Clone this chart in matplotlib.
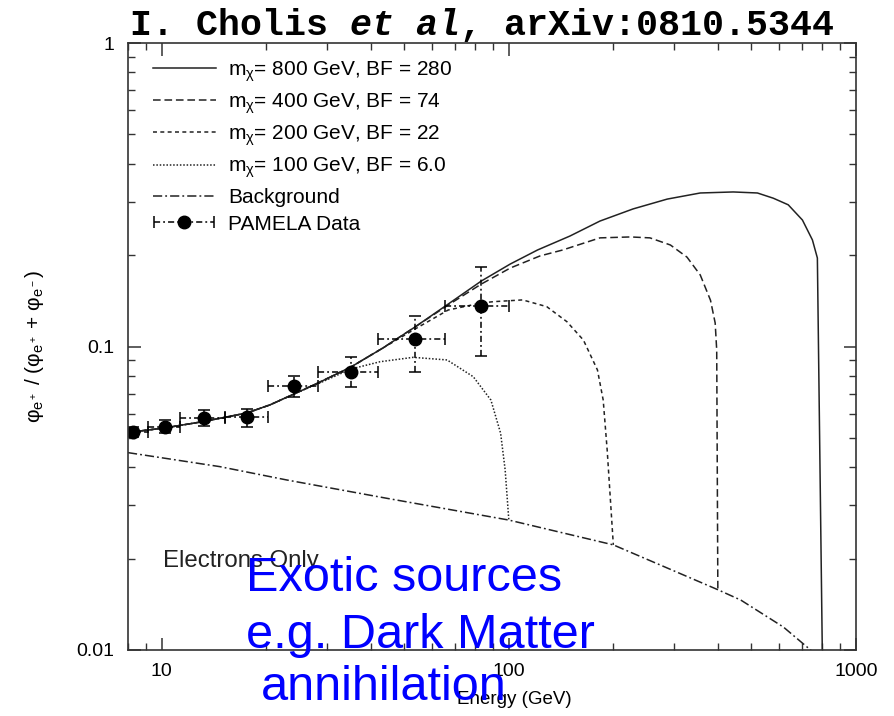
import numpy as np
import matplotlib
matplotlib.use("Agg")
import matplotlib.pyplot as plt
from matplotlib.legend_handler import HandlerErrorbar

plt.rcParams['font.family'] = ['Liberation Sans', 'DejaVu Sans']
plt.rcParams['mathtext.fontset'] = 'custom'
plt.rcParams['mathtext.rm'] = 'Liberation Sans'
plt.rcParams['mathtext.it'] = 'Liberation Sans:italic'
plt.rcParams['mathtext.bf'] = 'Liberation Sans:bold'

# --- curves (energy in GeV, positron fraction) ---
e_800 = [8.0, 10.2, 13.2, 17.6, 20.5, 24.1, 28.6, 35.1, 43.4, 53.7, 66.9, 83.3,
         101, 121, 150, 183, 228, 286, 356, 443, 520, 578, 638, 701, 749, 774, 800]
f_800 = [0.0521, 0.0539, 0.0566, 0.0604, 0.0642, 0.0698, 0.0764, 0.0856, 0.0989,
         0.116, 0.138, 0.1643, 0.187, 0.208, 0.2312, 0.259, 0.284, 0.306, 0.3205,
         0.323, 0.3205, 0.308, 0.293, 0.261, 0.2244, 0.1957, 0.0096]

e_400 = [8.0, 10.2, 13.2, 17.6, 20.5, 24.1, 28.6, 35.1, 43.4, 53.7, 66.9, 83.3,
         101, 123, 143, 183, 224, 255, 292, 326, 356, 381, 393, 397, 400]
f_400 = [0.0521, 0.0539, 0.0566, 0.0604, 0.0642, 0.0698, 0.0764, 0.0856, 0.0989,
         0.116, 0.137, 0.1606, 0.1814, 0.1988, 0.208, 0.228, 0.2296, 0.228, 0.216,
         0.197, 0.172, 0.142, 0.1195, 0.0974, 0.0158]

e_200 = [8.0, 10.2, 13.2, 17.6, 20.5, 24.1, 28.6, 35.1, 43.4, 53.7, 66.9, 83.3,
         90.2, 109.6, 128.6, 147, 164, 180, 187, 192, 200]
f_200 = [0.0521, 0.0539, 0.0566, 0.0604, 0.0642, 0.0698, 0.0764, 0.0856, 0.0989,
         0.1142, 0.1319, 0.1391, 0.1405, 0.1424, 0.1353, 0.1207, 0.105, 0.0837,
         0.0666, 0.0456, 0.0222]

e_100 = [8.0, 10.2, 13.2, 17.6, 20.5, 24.1, 28.6, 35.1, 42.6, 53.0, 66.4, 79.0,
         88.8, 94.7, 97.6, 100]
f_100 = [0.0521, 0.0539, 0.0566, 0.0604, 0.0642, 0.0698, 0.0759, 0.0843, 0.0891,
         0.0921, 0.0903, 0.0795, 0.0666, 0.0518, 0.0392, 0.0268]

e_bkg = [8.0, 14.7, 23.0, 44.6, 100, 200, 400, 466, 618, 740, 800]
f_bkg = [0.0447, 0.0402, 0.0363, 0.0316, 0.0268, 0.0222, 0.0158, 0.0146, 0.0119,
         0.0100, 0.0092]

# PAMELA points
e_pam = [8.27, 10.2, 13.2, 17.6, 24.1, 35.1, 53.7, 83.3]
e_lo = [7.4, 9.14, 11.3, 15.2, 20.3, 28.2, 42.0, 65.5]
e_hi = [9.14, 11.3, 15.2, 20.3, 28.2, 42.0, 65.5, 100.0]
f_pam = [0.0524, 0.0544, 0.0580, 0.0587, 0.0741, 0.0826, 0.1056, 0.1360]
f_errlo = [0.0020, 0.0026, 0.0033, 0.0043, 0.0058, 0.0089, 0.0230, 0.0430]
f_errhi = [0.0020, 0.0029, 0.0036, 0.0034, 0.0059, 0.0095, 0.0208, 0.0470]

labels = [r'm$_{\mathrm{\chi}}$= 800 GeV, BF = 280',
          r'm$_{\mathrm{\chi}}$= 400 GeV, BF = 74',
          r'm$_{\mathrm{\chi}}$= 200 GeV, BF = 22',
          r'm$_{\mathrm{\chi}}$= 100 GeV, BF = 6.0',
          'Background', 'PAMELA Data']

W, H = 894, 716
fig = plt.figure(figsize=(W / 100, H / 100), dpi=100)
ax = fig.add_axes([128 / W, 1 - 650 / H, 728 / W, 607 / H])

ink = '#222222'
l1, = ax.plot(e_800, f_800, color=ink, lw=1.1, ls='-')
l2, = ax.plot(e_400, f_400, color=ink, lw=1.1, ls=(0, (5, 2.5)))
l3, = ax.plot(e_200, f_200, color=ink, lw=1.1, ls=(0, (2.6, 2.2)))
l4, = ax.plot(e_100, f_100, color=ink, lw=1.1, ls=(0, (1, 1.2)))
l5, = ax.plot(e_bkg, f_bkg, color=ink, lw=1.1, ls=(0, (6, 2, 1.2, 2)))

e_pam_a = np.array(e_pam)
xerr = [e_pam_a - np.array(e_lo), np.array(e_hi) - e_pam_a]
yerr = [f_errlo, f_errhi]
eb = ax.errorbar(e_pam, f_pam, xerr=xerr, yerr=yerr, fmt='o', color='black',
                 ms=9, elinewidth=1.1, capsize=4, capthick=1.1)
for lc in eb[2]:
    lc.set_linestyle((0, (4, 2, 1.2, 2)))

ax.set_xscale('log')
ax.set_yscale('log')
ax.set_xlim(8, 1000)
ax.set_ylim(0.01, 1)
ax.set_xticks([10, 100, 1000])
ax.set_xticklabels(['10', '100', '1000'])
ax.set_yticks([0.01, 0.1, 1])
ax.set_yticklabels(['0.01', '0.1', '1'])
ax.tick_params(which='both', direction='in', top=True, right=True,
               color='#333333', labelsize=14)
ax.tick_params(which='major', length=9, width=1.1)
ax.tick_params(which='minor', length=5, width=1.0)
ax.tick_params(axis='y', which='major', pad=10)
ax.tick_params(axis='x', which='major', pad=9)
for s in ax.spines.values():
    s.set_color('#333333')
    s.set_linewidth(1.2)

ax.set_xlabel('Energy (GeV)', fontsize=13.5, labelpad=8)
ax.xaxis.label.set_x((514 - 128) / 728)
ax.set_ylabel(r'$\mathrm{\varphi_{e^+}}$ / ($\mathrm{\varphi_{e^+}}$ + $\mathrm{\varphi_{e^-}}$)',
              fontsize=15, labelpad=22)

ax.legend([l1, l2, l3, l4, l5, eb], labels, loc='upper left',
          bbox_to_anchor=(25 / 728, 1 - 16 / 607), borderaxespad=0, borderpad=0,
          frameon=False, fontsize=15, handlelength=3.0, handletextpad=0.6,
          labelspacing=0.37,
          handler_map={type(eb): HandlerErrorbar(xerr_size=1.45, yerr_size=0.0)})

ax.text(10.1, 0.0196, 'Electrons Only', fontsize=17.3, color='#222222',
        ha='left', va='center')

# title in monospace, "et al" italic
t1 = fig.text(130 / W, 1 - 35 / H, 'I. Cholis ', family='Liberation Mono',
              weight='bold', fontsize=26.4, va='baseline')
t2 = ax.annotate('et al', xy=(1, 0), xycoords=t1, va='bottom',
                 family='Liberation Mono', weight='bold', style='italic',
                 fontsize=26.4, annotation_clip=False)
ax.annotate(', arXiv:0810.5344', xy=(1, 0), xycoords=t2, va='bottom',
            family='Liberation Mono', weight='bold', fontsize=26.4,
            annotation_clip=False)

# blue overlay
blue = '#0000ff'
fig.text(246 / W, 1 - 591 / H, 'Exotic sources', color=blue, fontsize=35,
         va='baseline')
fig.text(246 / W, 1 - 648 / H, 'e.g. Dark Matter', color=blue, fontsize=35,
         va='baseline')
fig.text(261 / W, 1 - 700 / H, 'annihilation', color=blue, fontsize=35,
         va='baseline')

fig.savefig('out.png', dpi=100)
